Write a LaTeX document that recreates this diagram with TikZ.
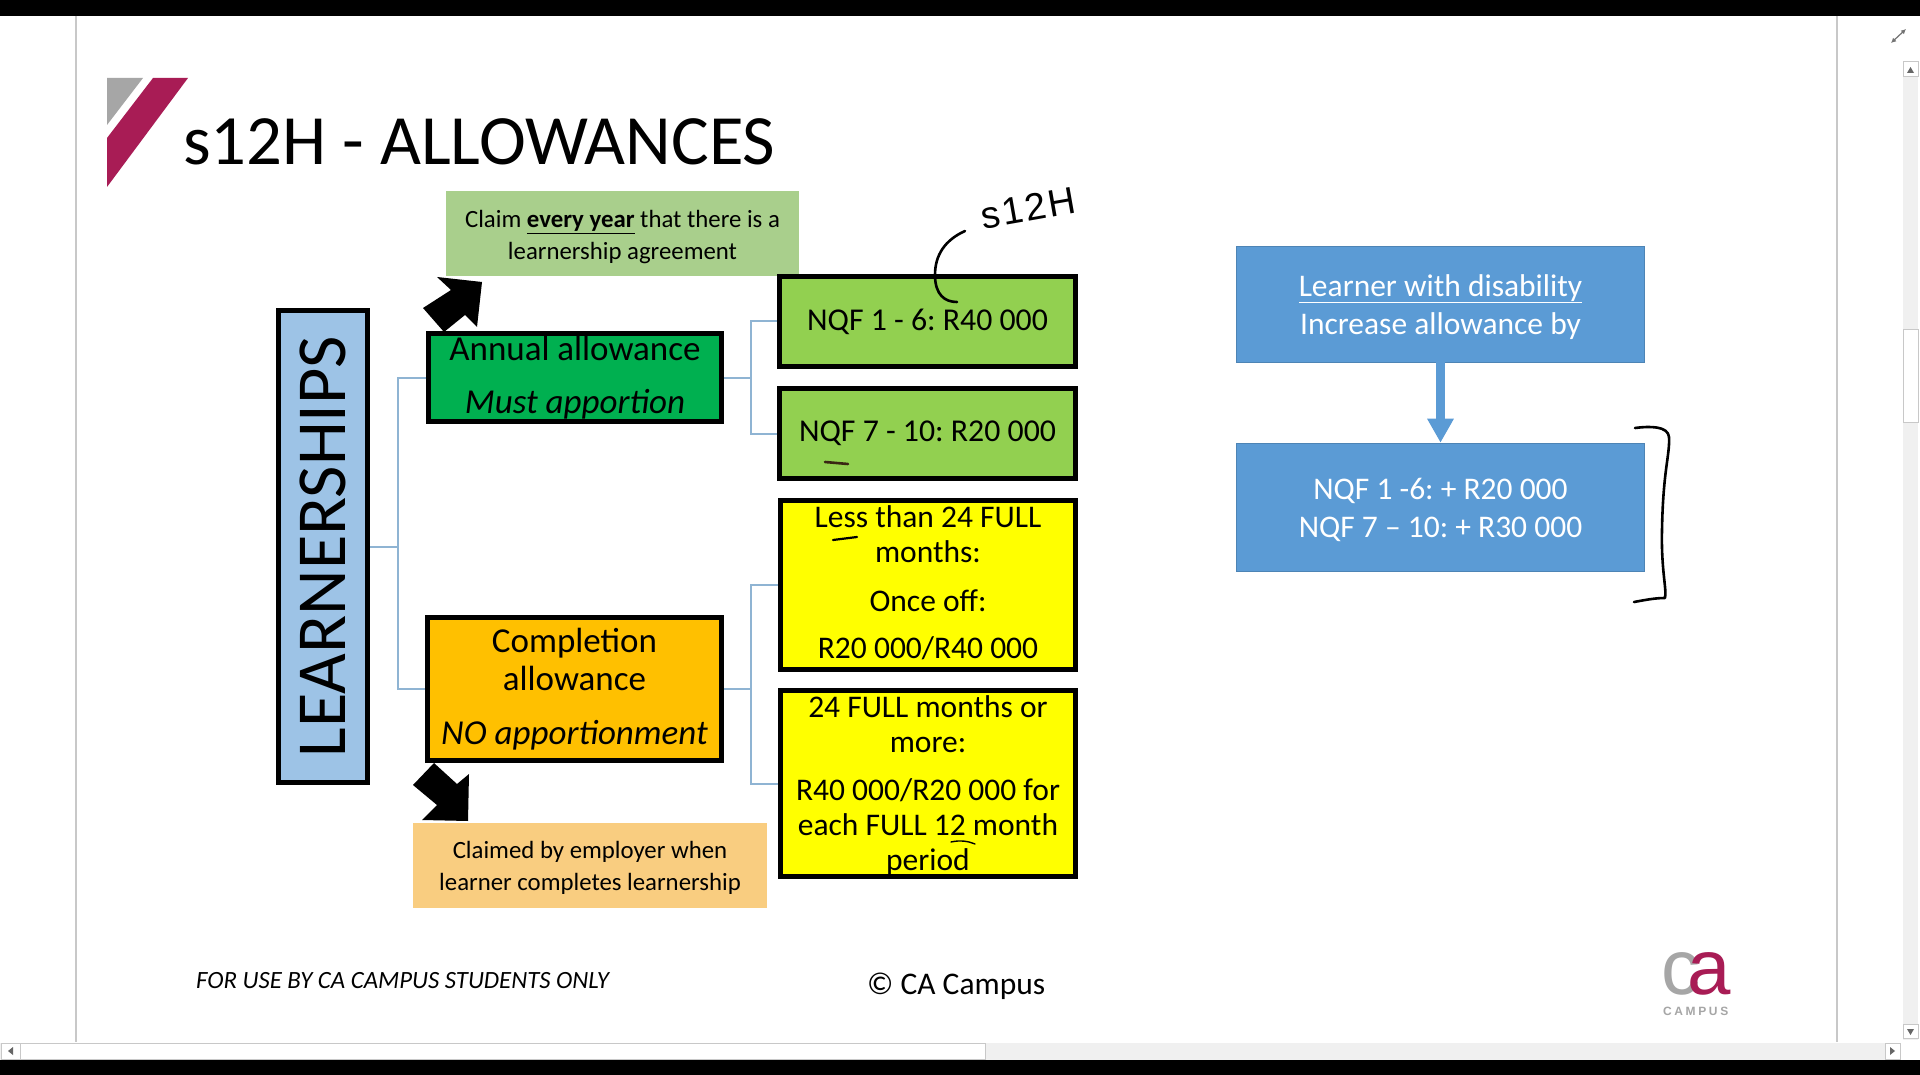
\documentclass[tikz,border=0pt]{standalone}
\usepackage{fontspec}
\usetikzlibrary{arrows.meta}
\setmainfont{Carlito}
\newfontfamily\handfont[LetterSpace=6]{Liberation Sans}
\newfontfamily\logofont{Liberation Sans}
\newfontfamily\logosmall[LetterSpace=22]{Liberation Sans}
\newcommand{\fs}[2]{\fontsize{#1}{#2}\selectfont\frenchspacing}
\newcommand{\dn}[1]{\raisebox{#1}{\vphantom{l}}}
\newcommand{\up}[1]{\raisebox{-#1}{\vphantom{g}}}
\definecolor{crimson}{HTML}{A81C55}
\definecolor{logogrey}{HTML}{A6A6A6}
\definecolor{learnblue}{HTML}{9DC3E6}
\definecolor{annualgreen}{HTML}{00B050}
\definecolor{nqfgreen}{HTML}{92D050}
\definecolor{complcol}{HTML}{FFC000}
\definecolor{hiyellow}{HTML}{FFFF00}
\definecolor{pale}{HTML}{A9CF8C}
\definecolor{paleorange}{HTML}{F9CD80}
\definecolor{boxblue}{HTML}{5B9BD5}
\definecolor{linkblue}{HTML}{8FB4D3}
\definecolor{track}{HTML}{F0F0F0}
\definecolor{rule}{HTML}{C8C8C8}
\tikzset{
  box/.style={draw=black,line width=5pt,align=center,inner sep=0pt,text=black},
  softbox/.style={align=center,inner sep=0pt,text=black},
  bluebox/.style={fill=boxblue,draw=boxblue!85!black,line width=.6pt,align=center,inner sep=0pt,text=white},
  link/.style={draw=linkblue,line width=2pt},
  ink/.style={draw=black,line width=2.6pt,line cap=round,line join=round},
  sbtn/.style={draw=rule,fill=white,line width=1pt},
  sarrow/.style={fill=black!60},
}
\begin{document}
\begin{tikzpicture}[x=1pt,y=-1pt]
\useasboundingbox (0,0) rectangle (1920,1075);
\fill[white] (0,0) rectangle (1920,1075);
% window chrome
\fill[black] (0,0) rectangle (1920,16);
\fill[black] (0,1060) rectangle (1920,1075);
\draw[rule,line width=1.5pt] (76,16) -- (76,1042);
\draw[rule,line width=1.5pt] (1837,16) -- (1837,1042);
\fill[track] (1903,62) rectangle (1918,1040);
\draw[sbtn] (1903,62) rectangle (1918,77);
\fill[sarrow] (1907,73) -- (1914,73) -- (1910.5,67) -- cycle;
\draw[sbtn] (1903,330) rectangle (1918,422);
\draw[sbtn] (1903,1024) rectangle (1918,1038);
\fill[sarrow] (1907,1029) -- (1914,1029) -- (1910.5,1035) -- cycle;
\fill[track] (0,1043) rectangle (1900,1060);
\draw[sbtn] (1,1043) rectangle (985,1059);
\draw[rule,line width=1pt] (20,1043) -- (20,1059);
\fill[sarrow] (13,1047) -- (13,1055) -- (8,1051) -- cycle;
\draw[sbtn] (1885,1043) rectangle (1900,1059);
\fill[sarrow] (1890,1047) -- (1890,1055) -- (1895,1051) -- cycle;
\draw[black!55,line width=1.2pt,{Latex[length=5pt,width=5pt]}-{Latex[length=5pt,width=5pt]}] (1891,43) -- (1906,29);
% logo
\fill[logogrey] (107,78) -- (143,78) -- (107,125) -- cycle;
\fill[crimson] (153,78) -- (188,78) -- (107,187) -- (107,138) -- cycle;
% title
\node[anchor=base west,inner sep=0pt,font=\fs{70.7}{74}] (title) at (183,165) {s12H - ALLOWANCES};
% connectors are drawn first, the boxes sit on top
\coordinate (busL) at (398,546.5);
\coordinate (busA) at (751,377.5);
\coordinate (busC) at (751,689);
% boxes
\node[softbox,fill=pale,minimum width=353pt,minimum height=85pt,font=\fs{24.8}{32}] (claim) at (622.5,233.5)
  {\dn{7.4pt}Claim \underline{\textbf{every year}} that there is a\\learnership agreement};
\node[softbox,fill=paleorange,minimum width=354pt,minimum height=85pt,font=\fs{24.8}{32}] (claimed) at (590,865.5)
  {\dn{5pt}Claimed by employer when\\learner completes learnership};
\node[box,fill=learnblue,rotate=90,minimum width=472pt,minimum height=89pt,font=\fs{70.3}{74}] (learn) at (323,546.5)
  {LEARNERSHIPS};
\node[box,fill=annualgreen,minimum width=293pt,minimum height=88pt,font=\fs{35}{53}] (annual) at (575,377.5)
  {Annual allowance\\\textit{Must apportion}};
\node[box,fill=complcol,minimum width=294pt,minimum height=143pt,font=\fs{35}{38}] (complbox) at (574.5,689)
  {Completion\\allowance\\[16pt]\textit{NO apportionment}};
\node[box,fill=nqfgreen,minimum width=296pt,minimum height=90pt,font=\fs{31.8}{36}] (nqfa) at (927.5,321.5)
  {NQF 1 - 6: R40 000};
\node[box,fill=nqfgreen,minimum width=296pt,minimum height=90pt,font=\fs{31.8}{36}] (nqfb) at (927.5,433.5)
  {NQF 7 - 10: R20 000};
\node[box,fill=hiyellow,minimum width=295pt,minimum height=169pt,font=\fs{31.5}{35}] (ya) at (928,585)
  {Less than 24 FULL\\months:\\[14pt]Once off:\\[12pt]R20 000/R40 000\up{1pt}};
\node[box,fill=hiyellow,minimum width=295pt,minimum height=186pt,font=\fs{31.5}{35}] (yb) at (928,783.5)
  {\dn{4pt}24 FULL months or\\more:\\[13pt]R40 000/R20 000 for\\each FULL 12 month\\period};
\node[bluebox,minimum width=408pt,minimum height=116pt,font=\fs{31.5}{38.5}] (disa) at (1440.5,304)
  {\dn{6pt}\underline{Learner with disability}\\Increase allowance by};
\node[bluebox,minimum width=408pt,minimum height=128pt,font=\fs{31.5}{38.5}] (disb) at (1440.5,507)
  {\dn{5pt}NQF 1 -6: + R20 000\\NQF 7 -- 10: + R30 000};
% connectors
\draw[link] (learn.south) -- (busL);
\draw[link] (annual.west) -| (busL);
\draw[link] (complbox.west) -| (busL);
\draw[link] (annual.east) -- (busA);
\draw[link] (nqfa.west) -| (busA);
\draw[link] (nqfb.west) -| (busA);
\draw[link] (complbox.east) -- (busC);
\draw[link] (ya.west) -| (busC);
\draw[link] (yb.west) -| (busC);
% block arrows
\fill[black] (437,277) -- (482,282) -- (477,327) -- (465,315) -- (444,332) -- (423,308) -- (451,290) -- cycle;
\fill[black] (434,763) -- (413,785) -- (437,805) -- (422,820) -- (468,821) -- (469,774) -- (457,784) -- cycle;
% blue arrow
\draw[boxblue,line width=9pt,-{Triangle[length=24pt,width=25pt]}] (disa.south) -- (disb.north);
% footer
\node[anchor=west,inner sep=0pt,font=\fs{24.8}{28}] (usenote) at (196,981) {\textit{FOR USE BY CA CAMPUS STUDENTS ONLY}};
\node[anchor=west,inner sep=0pt,font=\fs{31.5}{34}] (copy) at (867,986) {© CA Campus};
% CA logo
\node[anchor=base,inner sep=0pt,text=logogrey] (logoc) at (1681,994) {\logofont\fs{78}{80}c};
\node[anchor=base,inner sep=0pt,text=crimson] (logoa) at (1709,994) {\logofont\fs{78}{80}a};
\node[inner sep=0pt,text=logogrey] (logot) at (1697,1011) {\logosmall\fs{12}{14}\textbf{CAMPUS}};
% handwriting
\node[inner sep=0pt,rotate=10,text=black] (hand) at (1028,208) {\handfont\fs{38}{40}s12H};
\draw[ink] (965,231) .. controls (945,240) and (935,255) .. (935,275)
  .. controls (935,295) and (945,302) .. (957,302);
\draw[draw=black!70!brown,line width=2.6pt,line cap=round] (825,462) -- (848,464);
\draw[ink,line width=2.2pt] (833,540) -- (857,537);
\draw[ink,line width=1.4pt] (951,842) .. controls (960,840) and (968,841) .. (975,844);
\draw[ink] (1635,428) .. controls (1650,426) and (1668,426) .. (1669,437)
  .. controls (1670,455) and (1663,470) .. (1662,530)
  .. controls (1661,570) and (1667,590) .. (1665,598)
  .. controls (1655,598) and (1645,600) .. (1634,602);
\end{tikzpicture}
\end{document}
